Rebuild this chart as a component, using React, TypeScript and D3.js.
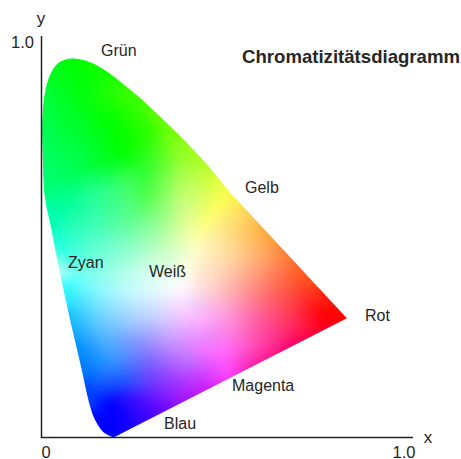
import React, { useMemo } from "react";
import * as d3 from "d3";

const outlineX = [.194,.166,.144,.131,.104,.077,.044,.027,.009,.003,.002,.009,.023,.045,.081,.122,.166,.246,.338,.427,.507];
const outlineY = [0,.014,.044,.077,.186,.293,.435,.517,.599,.716,.783,.858,.903,.933,.944,.938,.918,.861,.783,.699,.611];
const redTip = [.822,.297];

const edgeX = [.194,.157,.184,.131,.122,.090,.085,.058,.055,.042,.044,.028,.015,.004,.001,.023,.082,.166,.246,.338,.427,.507,.561,.596,.669,.696,.777,.822,.742,.669,.580,.499,.445,.373,.319,.252];
const edgeY = [0,.031,.086,.111,.176,.230,.268,.385,.405,.437,.475,.549,.641,.716,.841,.915,.945,.918,.861,.783,.699,.611,.557,.517,.447,.417,.330,.298,.260,.225,.186,.148,.123,.088,.064,.031];
const edgeColors = ["#0000ff","#0000ff","#0000ff","#0040ff","#0080ff","#0090ff","#10b0ff","#30ffff","#c0fff8","#90fff0","#20ffe0","#00ffb0","#00ff70","#00ff60","#00ff40","#00ff20","#00ff00","#10ff00","#40ff00","#70ff00","#a8ff20","#ffff50","#ffd060","#ffb040","#ff7838","#ff6020","#ff1008","#ff0000","#ff0030","#ff0070","#ff20a0","#ff40ff","#d020ff","#a010ff","#6000ff","#2000ff"];

const innerX = [.217,.192,.104,.098,.279,.233,.279,.367,.292,.378,.386,.405,.144,.055,.144,.244,.314,.324,.233,.125,.098,.190,.271,.139,.230,.319,.373,.166,.246,.319,.392,.184,.265,.284,.354,.427,.219,.246,.300,.373,.445,.489,.454,.408,.489,.507,.607,.454,.534,.623,.696,.758,.715,.669,.580,.489,.427,.489,.435,.561,.623,.405,.408];
const innerY = [.709,.778,.841,.666,.666,.634,.592,.691,.766,.609,.517,.460,.617,.574,.524,.542,.559,.475,.467,.484,.410,.410,.410,.367,.360,.360,.380,.268,.285,.300,.310,.193,.235,.193,.225,.225,.143,.101,.111,.143,.168,.599,.549,.592,.534,.450,.450,.367,.367,.350,.360,.310,.335,.285,.300,.310,.293,.200,.243,.225,.235,.200,.325];
const innerColors = ["#00ff00","#00ff00","#00ff10","#00ff50","#30ff30","#40ff60","#50ff50","#90ff30","#30ff00","#c0ff70","#e8ffa0","#fcffd0","#20ff90","#00ffa0","#40ffb8","#60ff90","#88ff80","#c0ffc0","#90ffd0","#50ffd0","#70fff0","#a0ffe8","#d0fff0","#80f8ff","#c0f8ff","#e8f8ff","#ffffff","#60c0ff","#a0c8ff","#d0d0ff","#ffc8ff","#3098ff","#8890ff","#7868ff","#c488ff","#f878ff","#2058ff","#3a10ff","#6a20ff","#a838ff","#d848ff","#fbff50","#ffff70","#d0ff70","#ffe880","#ffd8a0","#ffa060","#ffd0d0","#ffa0a0","#ff6060","#ff4030","#ff0000","#ff2020","#ff3060","#ff60a0","#ffa0e0","#ffb0ff","#ff60ff","#e888ff","#ff50c0","#ff3090","#c878ff","#f0c8ff"];

const tickLabels = ["0", "1.0"];
const W = 461, H = 459;
const xScale = d3.scaleLinear().domain([0, 1]).range([41.5, 413]);
const yScale = d3.scaleLinear().domain([0, 1]).range([437.5, 36]);
const FONT = "'Liberation Sans', Arial, sans-serif";
const INK = "#262626";

function fieldImage(): string {
  const xs = [...edgeX, ...innerX], ys = [...edgeY, ...innerY];
  const pts = xs.map((x, i) => [xScale(x), yScale(ys[i])] as [number, number]);
  const cols = [...edgeColors, ...innerColors].map(c => d3.rgb(c));
  const del = d3.Delaunay.from(pts);
  const t = del.triangles;
  const cv = document.createElement("canvas");
  cv.width = W; cv.height = H;
  const ctx = cv.getContext("2d")!;
  const img = ctx.createImageData(W, H);
  for (let i = 0; i < t.length; i += 3) {
    const a = t[i], b = t[i + 1], c = t[i + 2];
    const [ax, ay] = pts[a], [bx, by] = pts[b], [cx, cy] = pts[c];
    const den = (by - cy) * (ax - cx) + (cx - bx) * (ay - cy);
    if (Math.abs(den) < 1e-9) continue;
    const x0 = Math.max(0, Math.floor(Math.min(ax, bx, cx))), x1 = Math.min(W - 1, Math.ceil(Math.max(ax, bx, cx)));
    const y0 = Math.max(0, Math.floor(Math.min(ay, by, cy))), y1 = Math.min(H - 1, Math.ceil(Math.max(ay, by, cy)));
    for (let y = y0; y <= y1; y++) for (let x = x0; x <= x1; x++) {
      const l1 = ((by - cy) * (x - cx) + (cx - bx) * (y - cy)) / den;
      const l2 = ((cy - ay) * (x - cx) + (ax - cx) * (y - cy)) / den;
      const l3 = 1 - l1 - l2;
      if (l1 < -1e-6 || l2 < -1e-6 || l3 < -1e-6) continue;
      const k = (y * W + x) * 4;
      img.data[k] = l1 * cols[a].r + l2 * cols[b].r + l3 * cols[c].r;
      img.data[k + 1] = l1 * cols[a].g + l2 * cols[b].g + l3 * cols[c].g;
      img.data[k + 2] = l1 * cols[a].b + l2 * cols[b].b + l3 * cols[c].b;
      img.data[k + 3] = 255;
    }
  }
  let hint = 0;
  for (let y = 0; y < H; y++) for (let x = 0; x < W; x++) {
    const k = (y * W + x) * 4;
    if (img.data[k + 3] === 0) {
      hint = del.find(x, y, hint);
      img.data[k] = cols[hint].r; img.data[k + 1] = cols[hint].g; img.data[k + 2] = cols[hint].b; img.data[k + 3] = 255;
    }
  }
  ctx.putImageData(img, 0, 0);
  const out = document.createElement("canvas");
  out.width = W; out.height = H;
  const octx = out.getContext("2d")!;
  octx.drawImage(cv, 0, 0);
  octx.filter = "blur(4px)";
  octx.drawImage(cv, 0, 0);
  return out.toDataURL("image/png");
}

export default function App() {
  const href = useMemo(fieldImage, []);
  const curve = d3.line<number>()
    .x(i => xScale(outlineX[i]))
    .y(i => yScale(outlineY[i]))
    .curve(d3.curveCatmullRom.alpha(0.5))(outlineX.map((_, i) => i))!;
  const outline = `${curve}L${xScale(redTip[0])},${yScale(redTip[1])}Z`;
  const lab = { fontFamily: FONT, fontSize: 16, fill: INK } as const;
  return (
    <svg width={W} height={H} viewBox={`0 0 ${W} ${H}`} style={{ position: "absolute", left: 0, top: 0, background: "#fff" }}>
      <defs>
        <clipPath id="gamut"><path d={outline} /></clipPath>
      </defs>
      <image href={href} x={0} y={0} width={W} height={H} clipPath="url(#gamut)" />
      <line x1={xScale(0)} x2={xScale(0)} y1={yScale(0)} y2={yScale(1)} stroke="#222" strokeWidth={1.5} />
      <line x1={xScale(0) - 0.75} x2={xScale(1)} y1={yScale(0)} y2={yScale(0)} stroke="#222" strokeWidth={1.5} />
      <text x={80} y={-3} {...lab} textAnchor="middle">p</text>
      <text x={118} y={-3} {...lab} textAnchor="middle">y</text>
      <text x={41} y={24} {...lab} fontSize={17} textAnchor="middle">y</text>
      <text x={22.5} y={48} {...lab} fontSize={16.5} textAnchor="middle">{tickLabels[1]}</text>
      <text x={46} y={458} {...lab} fontSize={16.5} textAnchor="middle">{tickLabels[0]}</text>
      <text x={404} y={458} {...lab} fontSize={16.5} textAnchor="middle">{tickLabels[1]}</text>
      <text x={428} y={443} {...lab} fontSize={17} textAnchor="middle">x</text>
      <text x={101} y={56} {...lab}>Grün</text>
      <text x={242} y={63} fontFamily={FONT} fontSize={18.6} fontWeight={700} fill={INK}>Chromatizitätsdiagramm</text>
      <text x={245} y={193} {...lab}>Gelb</text>
      <text x={68} y={268} {...lab}>Zyan</text>
      <text x={149} y={277} {...lab}>Weiß</text>
      <text x={365} y={321} {...lab}>Rot</text>
      <text x={232} y={391} {...lab}>Magenta</text>
      <text x={164} y={429} {...lab}>Blau</text>
    </svg>
  );
}
